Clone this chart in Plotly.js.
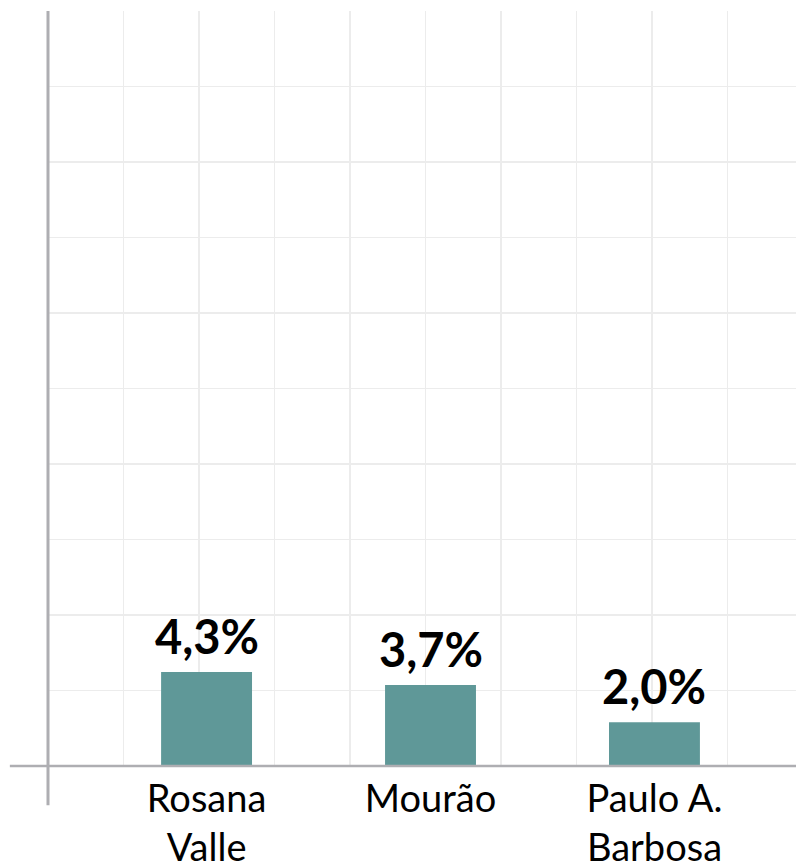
<!DOCTYPE html>
<html>
<head>
<meta charset="utf-8">
<script src="https://cdn.plot.ly/plotly-3.0.1.min.js"></script>
<style>html,body{margin:0;padding:0;background:#fff;}#chart{width:796px;height:866px;}</style>
</head>
<body>
<div id="chart"></div>
<script>
const categories = ["Rosana<br>Valle", "Mourão", "Paulo A.<br>Barbosa"];
const values = [4.3, 3.7, 2.0];
const valueLabels = ["4,3%", "3,7%", "2,0%"];

const FONT = "Lato, 'Open Sans', sans-serif";

const bars = {
  type: "bar",
  x: categories,
  y: values,
  width: 0.406,
  marker: {color: "#5f9898"},
  hoverinfo: "skip"
};

const gridTrace = {
  type: "scatter", x: [0], y: [0], xaxis: "x2", yaxis: "y",
  mode: "markers", marker: {opacity: 0}, hoverinfo: "skip", showlegend: false
};

const annotations = categories.map((c, i) => ({
  x: c, y: values[i], xref: "x", yref: "y",
  text: valueLabels[i], showarrow: false,
  yanchor: "bottom", yshift: 6,
  font: {family: FONT, size: 47, color: "#000", weight: "bold"}
}));

const layout = {
  width: 796, height: 866,
  margin: {l: 48, r: 0, t: 11, b: 100},
  paper_bgcolor: "#fff", plot_bgcolor: "#fff",
  showlegend: false,
  font: {family: FONT, color: "#000"},
  xaxis: {
    type: "category",
    range: [-0.708, 2.632],
    showgrid: false, zeroline: false, showline: false,
    ticks: "", ticklabelstandoff: 7,
    tickfont: {family: FONT, size: 38, color: "#000"},
    fixedrange: true
  },
  xaxis2: {
    overlaying: "x", range: [0, 9.907], dtick: 1,
    showgrid: true, gridcolor: "#ececec", gridwidth: 1.5,
    showticklabels: false, zeroline: false, showline: false, ticks: "",
    side: "bottom"
  },
  yaxis: {
    range: [0, 34.5], dtick: 3.45,
    showgrid: true, gridcolor: "#ececec", gridwidth: 1.5,
    showticklabels: false, zeroline: false, showline: false, ticks: ""
  },
  annotations: annotations,
  shapes: [
    {type: "line", xref: "paper", yref: "paper", x0: -0.051, x1: 1, y0: 0, y1: 0,
     line: {color: "#aeaeb2", width: 2.5}},
    {type: "line", xref: "paper", yref: "paper", x0: 0, x1: 0, y0: -0.052, y1: 1,
     line: {color: "#aeaeb2", width: 3}}
  ]
};

Plotly.newPlot("chart", [gridTrace, bars], layout, {displayModeBar: false, staticPlot: true});
</script>
</body>
</html>
